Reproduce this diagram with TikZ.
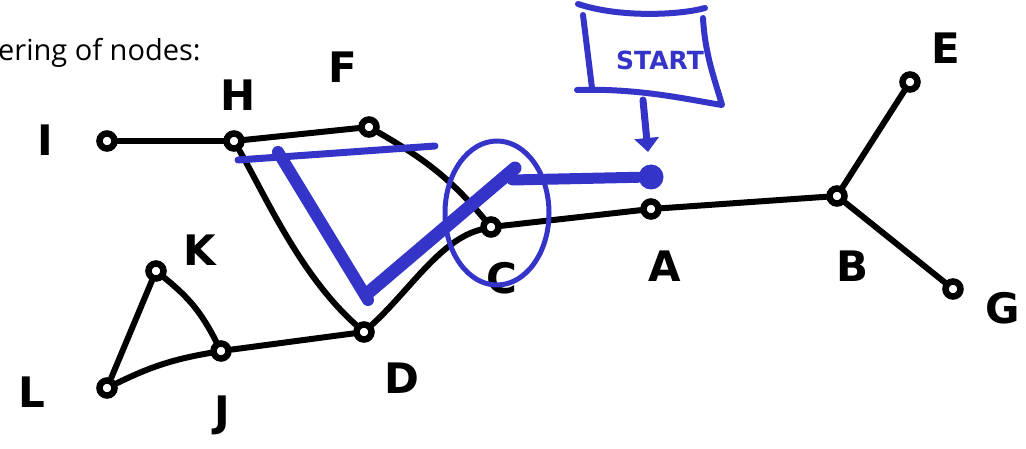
\documentclass[tikz,border=0pt]{standalone}
\usepackage{fontspec}
\usetikzlibrary{arrows.meta}
\setmainfont{Open Sans}
\newfontfamily\hand{DejaVu Sans}
\begin{document}
\begin{tikzpicture}[x=1pt,y=-1pt,
  ink/.style={line width=6pt,line cap=round,line join=round},
  vtx/.style={circle,draw=black,line width=6.5pt,fill=white,inner sep=0pt,minimum size=15pt},
  lbl/.style={font=\hand\bfseries\fontsize{42}{42}\selectfont,inner sep=0pt},
  blu/.style={draw={rgb,255:red,52;green,52;blue,200},line cap=round,line join=round}]
\useasboundingbox (0,0) rectangle (1026,449);
\node[anchor=west,inner sep=0pt,font=\fontsize{29}{29}\selectfont] (cap) at (-2,53) {ering of nodes:};
% vertices
\node[vtx] (I) at (107,141) {};
\node[vtx] (H) at (234,141) {};
\node[vtx] (F) at (369,127) {};
\node[vtx] (C) at (491,227) {};
\node[vtx] (A) at (651,209) {};
\node[vtx] (B) at (837,196) {};
\node[vtx] (E) at (910,82) {};
\node[vtx] (G) at (953,289) {};
\node[vtx] (K) at (156,271) {};
\node[vtx] (J) at (221,351) {};
\node[vtx] (L) at (107,388) {};
\node[vtx] (D) at (364,332) {};
% labels
\node[lbl] (lI) at (45,140) {I};
\node[lbl] (lH) at (238,95) {H};
\node[lbl] (lF) at (343,67) {F};
\node[lbl] (lC) at (502,278) {C};
\node[lbl] (lA) at (665,266) {A};
\node[lbl] (lB) at (852,266) {B};
\node[lbl] (lE) at (946,48) {E};
\node[lbl] (lG) at (1003,308) {G};
\node[lbl] (lK) at (200,250) {K};
\node[lbl] (lJ) at (222,415) {J};
\node[lbl] (lL) at (32,392) {L};
\node[lbl] (lD) at (402,378) {D};
% edges
\draw[ink] (I) -- (H);
\draw[ink] (H) -- (F);
\draw[ink] (F) to[out=-30,in=130] (C);
\draw[ink] (H) .. controls (265,195) and (300,275) .. (D);
\draw[ink] (D) .. controls (410,290) and (440,240) .. (C);
\draw[ink] (C) -- (A);
\draw[ink] (A) -- (B);
\draw[ink] (B) -- (E);
\draw[ink] (B) -- (G);
\draw[ink] (K) to[bend left=12] (J);
\draw[ink] (K) -- (L);
\draw[ink] (L) to[bend left=8] (J);
\draw[ink] (J) -- (D);
% blue overlay
\node[circle,fill={rgb,255:red,52;green,52;blue,200},inner sep=0pt,minimum size=25pt] (S) at (651,177) {};
\draw[blu,line width=11pt] (512,180) -- (S);
\draw[blu,line width=5pt] (497,213) ellipse [x radius=52,y radius=72];
\draw[blu,line width=7pt] (238,160) -- (435,146);
\draw[blu,line width=12pt] (278,152) -- (368,300);
\draw[blu,line width=13pt] (368,293) -- (515,168);
% start box
\draw[blu,line width=6pt] (578,4) .. controls (620,18) and (680,15) .. (705,8)
  (583,15) -- (592,88)
  (577,90) .. controls (640,88) and (690,100) .. (722,105)
  .. controls (715,80) and (705,55) .. (703,18);
\node[font=\hand\bfseries\fontsize{25}{25}\selectfont,text={rgb,255:red,52;green,52;blue,200},inner sep=0pt] (st) at (660,60) {START};
\coordinate (sb) at (643,100);
\coordinate (se) at (648,152);
\draw[blu,line width=7pt,-{Triangle[length=14pt,width=24pt]}] (sb) -- (se);
\end{tikzpicture}
\end{document}
